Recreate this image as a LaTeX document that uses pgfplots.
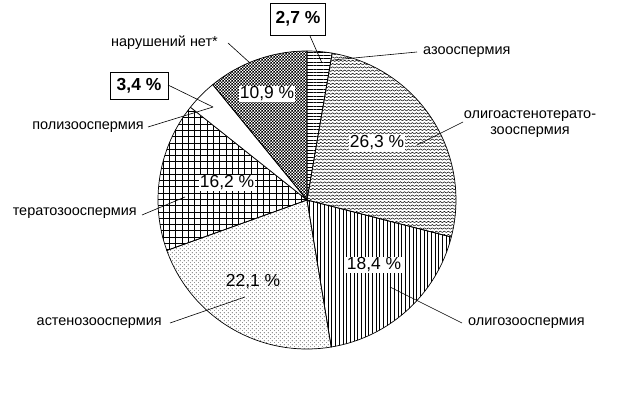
\documentclass[border=0pt]{standalone}
\usepackage{fontspec}
\setmainfont{Liberation Sans}
\usepackage{pgfplots}
\usepackage{pgfplotstable}
\pgfplotsset{compat=1.18}
\usetikzlibrary{patterns,patterns.meta}

\pgfdeclarepatternformonly{waves}{\pgfqpoint{-0.5pt}{-0.5pt}}{\pgfqpoint{4.5pt}{3.8pt}}{\pgfqpoint{4pt}{3.3pt}}{%
  \pgfsetlinewidth{0.5pt}%
  \pgfpathmoveto{\pgfqpoint{0pt}{0.4pt}}%
  \pgfpathlineto{\pgfqpoint{2pt}{1.8pt}}%
  \pgfpathlineto{\pgfqpoint{4pt}{0.4pt}}%
  \pgfusepath{stroke}}
\pgfdeclarepatternformonly{densedots}{\pgfqpoint{0pt}{0pt}}{\pgfqpoint{3pt}{3pt}}{\pgfqpoint{3pt}{3pt}}{%
  \pgfpathrectangle{\pgfqpoint{0pt}{0pt}}{\pgfqpoint{1.3pt}{1.3pt}}%
  \pgfpathrectangle{\pgfqpoint{1.5pt}{1.5pt}}{\pgfqpoint{1.3pt}{1.3pt}}%
  \pgfusepath{fill}}
\pgfdeclarepatternformonly{sparsedots}{\pgfqpoint{0pt}{0pt}}{\pgfqpoint{4.4pt}{4.4pt}}{\pgfqpoint{4.4pt}{4.4pt}}{%
  \pgfpathrectangle{\pgfqpoint{0pt}{0pt}}{\pgfqpoint{0.8pt}{0.8pt}}%
  \pgfpathrectangle{\pgfqpoint{2.2pt}{2.2pt}}{\pgfqpoint{0.8pt}{0.8pt}}%
  \pgfusepath{fill}}
\pgfdeclarepatternformonly{biggrid}{\pgfqpoint{-1pt}{-1pt}}{\pgfqpoint{7.3pt}{7.3pt}}{\pgfqpoint{6.3pt}{6.3pt}}{%
  \pgfsetlinewidth{0.8pt}%
  \pgfpathmoveto{\pgfqpoint{-1pt}{0pt}}\pgfpathlineto{\pgfqpoint{7.3pt}{0pt}}%
  \pgfpathmoveto{\pgfqpoint{0pt}{-1pt}}\pgfpathlineto{\pgfqpoint{0pt}{7.3pt}}%
  \pgfusepath{stroke}}

\pgfplotstableread{
name pct
azoo 2.7
oligoastenoterato 26.3
oligo 18.4
asteno 22.1
terato 16.2
poli 3.4
norm 10.9
}\piedata

\newcommand\getpct[2]{\pgfplotstablegetelem{#1}{pct}\of\piedata\global\let#2\pgfplotsretval}
\getpct{0}{\pA}\getpct{1}{\pB}\getpct{2}{\pC}\getpct{3}{\pD}\getpct{4}{\pE}\getpct{5}{\pF}\getpct{6}{\pG}
\pgfmathsetmacro\aO{90}
\pgfmathsetmacro\aA{\aO-3.6*\pA}
\pgfmathsetmacro\aB{\aA-3.6*\pB}
\pgfmathsetmacro\aC{\aB-3.6*\pC}
\pgfmathsetmacro\aD{\aC-3.6*\pD}
\pgfmathsetmacro\aE{\aD-3.6*\pE}
\pgfmathsetmacro\aF{\aE-3.6*\pF}
\pgfmathsetmacro\aG{\aF-3.6*\pG}

\def\cx{307}\def\cy{194}\def\R{149}
\newcommand\slice[3]{% start, end, style
  \filldraw[#3, draw=black, line width=0.7bp] (axis cs:\cx,\cy) -- (axis cs:{\cx+\R*cos(#1)},{\cy+\R*sin(#1)}) arc[start angle=#1, end angle=#2, radius=\R bp] -- cycle;}

\begin{document}
\begin{tikzpicture}
\begin{axis}[width=617bp, height=394bp, scale only axis, xmin=0, xmax=617, ymin=0, ymax=394, hide axis, clip=false]
\path (axis cs:0,0) rectangle (axis cs:617,394);
\slice{\aO}{\aA}{pattern={Lines[angle=0,distance=3.4pt,line width=0.6pt]}}
\slice{\aA}{\aB}{pattern=waves}
\slice{\aB}{\aC}{pattern={Lines[angle=90,distance=3.7pt,line width=0.6pt]}}
\slice{\aC}{\aD}{pattern=sparsedots}
\slice{\aD}{\aE}{pattern=biggrid}
\slice{\aE}{\aF}{fill=white}
\slice{\aF}{\aG}{pattern=densedots}

\tikzset{pl/.style={font=\fontsize{17.5}{19}\selectfont, inner sep=1bp},
         cl/.style={font=\fontsize{14.5}{16.5}\selectfont, inner sep=0pt},
         bx/.style={draw, fill=white, line width=0.8bp, font=\fontsize{17.5}{19}\selectfont\bfseries, inner sep=0pt},
         ll/.style={line width=0.6bp}}
% percentage labels
\node[pl, fill=white] at (axis cs:267,300) {10,9 \%};
\node[pl, fill=white] at (axis cs:377,251) {26,3 \%};
\node[pl, fill=white] at (axis cs:227,211) {16,2 \%};
\node[pl, fill=white] at (axis cs:374,129) {18,4 \%};
\node[pl] at (axis cs:253,112) {22,1 \%};

% boxed labels
\node[bx, minimum width=55bp, minimum height=32bp] at (axis cs:298,375) {2,7 \%};
\draw[ll] (axis cs:310,358) -- (axis cs:322,331);
\node[bx, minimum width=58bp, minimum height=27bp] at (axis cs:139,308) {3,4 \%};
\draw[ll] (axis cs:168,309) -- (axis cs:213,287);

% category labels
\node[cl, anchor=east] at (axis cs:218,351) {нарушений нет*};
\draw[ll] (axis cs:228,351) -- (axis cs:250,331);
\node[cl, anchor=west] at (axis cs:423,342) {азооспермия};
\draw[ll] (axis cs:333,334) -- (axis cs:417,342);
\node[cl, align=center] at (axis cs:530,270) {олигоастенотерато-\\зооспермия};
\draw[ll] (axis cs:417,249) -- (axis cs:463,272);
\node[cl, anchor=west] at (axis cs:468,71) {олигозооспермия};
\draw[ll] (axis cs:390,107) -- (axis cs:462,71);
\node[cl, anchor=east] at (axis cs:162,71) {астенозооспермия};
\draw[ll] (axis cs:170,71) -- (axis cs:245,97);
\node[cl, anchor=east] at (axis cs:137,181) {тератозооспермия};
\draw[ll] (axis cs:142,179) -- (axis cs:185,197);
\node[cl, anchor=east] at (axis cs:144,267) {полизооспермия};
\draw[ll] (axis cs:148,267) -- (axis cs:213,287);
\end{axis}
\end{tikzpicture}
\end{document}
